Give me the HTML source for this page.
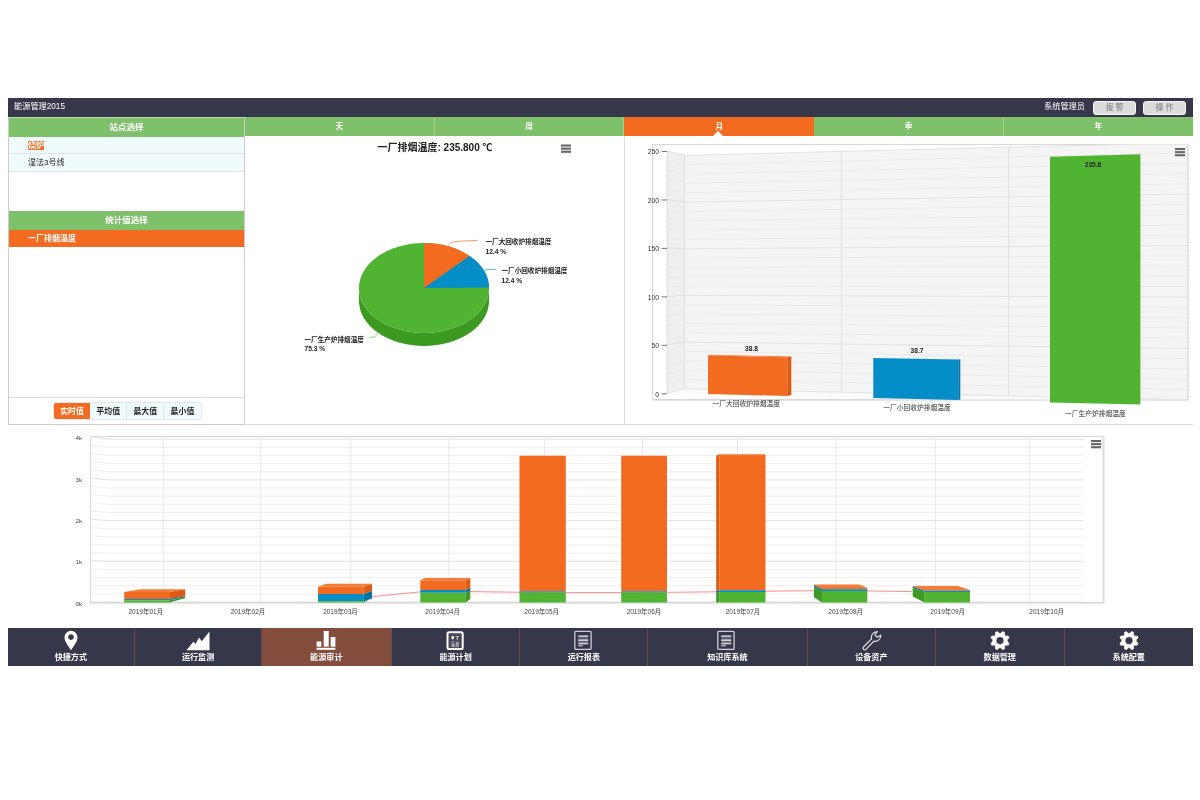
<!DOCTYPE html>
<html lang="zh-CN">
<head>
<meta charset="utf-8">
<title>能源管理2015</title>
<style>
*{box-sizing:border-box;margin:0;padding:0}
html,body{width:1200px;height:800px;background:#fff;overflow:hidden}
body{font-family:"Liberation Sans","Noto Sans CJK SC",sans-serif;color:#222;position:relative}
.abs{position:absolute}
#top{left:8px;top:98px;width:1185px;height:18.5px;background:#37374b;color:#fff;font-size:8.2px;line-height:18.5px}
#top .title{left:6px;top:0}
#top .user{right:108px;top:0}
.btn{top:3px;height:13.5px;width:43px;background:#dcdcdc;border:1px solid #f4f4f4;border-radius:3px;color:#7a7a7a;font-size:8px;line-height:11.5px;text-align:center;letter-spacing:2px;padding-left:2px}
.ghead{background:#7fc06a;color:#fff;font-size:8.5px;font-weight:bold;text-align:center;line-height:19px;height:19px}
.tab{top:116.5px;height:19px;width:189.7px;border-right:1px solid #a5d296;font-size:7.6px}
.tab.on{background:#f26b21;border-right:none}
#left{left:8px;top:116.5px;width:237px;height:308px;border:1px solid #ccc;border-top:1px solid #b9dcae;background:#fff}
.row{left:0;width:235px;height:17.5px;background:#f0fbfd;border-bottom:1px solid #e3e3e3;font-size:8px;line-height:17px;padding-left:19px;color:#222}
.row.sel{background:#f26b21;color:#fff;border-bottom:none;font-weight:bold}
.hl{background:#f26b21;color:#fff;font-weight:bold}
#bg{left:44px;top:284.2px;height:18.4px;width:148.5px;border-radius:3px;overflow:hidden;display:flex;font-size:7.9px;font-weight:bold;line-height:17.6px;text-align:center;border:1px solid #dde9ec;background:#f0fbfd}
#bg span{flex:1;border-right:1px solid #dde9ec;color:#222}
#bg span.on{background:#f26b21;color:#fff;border-right:none}
#bg span:last-child{border-right:none}
#nav{left:8px;top:628px;width:1185px;height:37.5px;background:#37374b}
.ni{top:0;height:37.5px;width:131.67px;border-right:1px solid #6b4a48;color:#fff;font-size:8.1px;font-weight:bold;text-align:center}
.ni.on{background:#834c3c}
.ni span{position:absolute;left:0;right:0;top:24px;line-height:12px}
.ni svg{position:absolute;left:50%;top:0;margin-left:-12px}
svg text{font-family:"Liberation Sans","Noto Sans CJK SC",sans-serif}
</style>
</head>
<body>
<div id="top" class="abs">
  <div class="abs title">能源管理2015</div>
  <div class="abs user">系统管理员</div>
  <div class="abs btn" style="left:1085px">报警</div>
  <div class="abs btn" style="left:1135px">操作</div>
</div>

<div class="abs ghead tab" style="left:245px">天</div>
<div class="abs ghead tab" style="left:434.7px">周</div>
<div class="abs ghead tab on" style="left:624.4px">月</div>
<div class="abs ghead tab" style="left:814.1px">季</div>
<div class="abs ghead tab" style="left:1003.8px;border-right:none;width:189.2px">年</div>
<div class="abs" style="left:712.6px;top:131px;width:0;height:0;border-left:5.8px solid transparent;border-right:5.8px solid transparent;border-bottom:5px solid #fff"></div>

<div id="left" class="abs">
  <div class="abs ghead" style="left:0;top:0;width:235px">站点选择</div>
  <div class="abs row" style="top:19px"><span class="hl">烧炉</span></div>
  <div class="abs row" style="top:36.5px">湿法3号线</div>
  <div class="abs ghead" style="left:0;top:93px;width:235px">统计值选择</div>
  <div class="abs row sel" style="top:112.1px">一厂排烟温度</div>
  <div class="abs" style="left:0;top:279.6px;width:235px;height:1px;background:#ddd"></div>
  <div id="bg" class="abs"><span class="on">实时值</span><span>平均值</span><span>最大值</span><span>最小值</span></div>
</div>

<!-- pie + bar panel frame -->
<div class="abs" style="left:245px;top:135.5px;width:948px;height:289px;border-bottom:1px solid #ddd"></div>
<div class="abs" style="left:624px;top:135.5px;width:1px;height:289px;background:#ddd"></div>

<svg id="pie" class="abs" style="left:245px;top:136px" width="379" height="288" viewBox="245 136 379 288">
<text x="435.00" y="150.50" font-size="10" text-anchor="middle" fill="#222" font-weight="bold">一厂排烟温度: 235.800 ℃</text>
<rect x="561.0" y="144.5" width="10" height="2.1" fill="#666"/><rect x="561.0" y="147.6" width="10" height="2.1" fill="#666"/><rect x="561.0" y="150.7" width="10" height="2.1" fill="#666"/>
<path d="M359.0,288.0 A65 45 0 0 0 489.0,288.0 L489.0,301.0 A65 45 0 0 1 359.0,301.0 Z" fill="#3c9a22"/>
<ellipse cx="424" cy="288" rx="65" ry="45" fill="#50b432"/>
<path d="M424,288 L424.00,243.00 A65 45 0 0 1 469.64,255.96 Z" fill="#f26b21"/>
<path d="M424,288 L469.64,255.96 A65 45 0 0 1 489.00,287.45 Z" fill="#058dc7"/>
<path d="M448.7,245.3 C450,241 456,241.5 478,240.3" fill="none" stroke="#f26b21" stroke-width="0.7"/>
<path d="M484.7,270.3 C488,269.3 491,269.4 495.5,269.4" fill="none" stroke="#058dc7" stroke-width="0.7"/>
<path d="M377.5,333.3 C376,337 373,337.6 369,337.8" fill="none" stroke="#50b432" stroke-width="0.7"/>
<text x="485.50" y="244.30" font-size="6.6" text-anchor="start" fill="#222" font-weight="bold">一厂大回收炉排烟温度</text>
<text x="485.50" y="254.00" font-size="6.6" text-anchor="start" fill="#222" font-weight="bold">12.4 %</text>
<text x="501.50" y="273.30" font-size="6.6" text-anchor="start" fill="#222" font-weight="bold">一厂小回收炉排烟温度</text>
<text x="501.50" y="283.00" font-size="6.6" text-anchor="start" fill="#222" font-weight="bold">12.4 %</text>
<text x="304.50" y="341.50" font-size="6.6" text-anchor="start" fill="#222" font-weight="bold">一厂生产炉排烟温度</text>
<text x="304.50" y="351.30" font-size="6.6" text-anchor="start" fill="#222" font-weight="bold">75.3 %</text>
</svg>
<svg id="bar" class="abs" style="left:625px;top:136px" width="568" height="288" viewBox="625 136 568 288">
<defs><clipPath id="cb"><rect x="652.5" y="144.5" width="535.0" height="255.0"/></clipPath></defs>
<rect x="653.3" y="145.3" width="535.0" height="255.0" fill="none" stroke="#e8e8e8" stroke-width="2"/>
<rect x="652.5" y="144.5" width="535.0" height="255.0" fill="#fff" stroke="#d4d4d4" stroke-width="0.9"/>
<g clip-path="url(#cb)">
<polygon points="684.50,155.40 1187.50,142.60 1187.50,399.90 684.50,388.70" fill="#f4f4f4" />
<polygon points="667.00,151.00 684.50,155.40 684.50,388.70 667.00,393.30" fill="#efefef" />
<polygon points="667.00,393.30 684.50,388.70 1187.50,399.90 1187.50,407.90" fill="#fafafa" />
<line x1="684.50" y1="155.40" x2="1187.50" y2="142.60" stroke="#dcdcdc" stroke-width="0.8"/>
<line x1="667.00" y1="151.00" x2="684.50" y2="155.40" stroke="#dcdcdc" stroke-width="0.8"/>
<line x1="684.50" y1="164.73" x2="1187.50" y2="152.89" stroke="#e4e4e4" stroke-width="0.6"/>
<line x1="667.00" y1="160.69" x2="684.50" y2="164.73" stroke="#e4e4e4" stroke-width="0.6"/>
<line x1="684.50" y1="174.06" x2="1187.50" y2="163.18" stroke="#e4e4e4" stroke-width="0.6"/>
<line x1="667.00" y1="170.38" x2="684.50" y2="174.06" stroke="#e4e4e4" stroke-width="0.6"/>
<line x1="684.50" y1="183.40" x2="1187.50" y2="173.48" stroke="#e4e4e4" stroke-width="0.6"/>
<line x1="667.00" y1="180.08" x2="684.50" y2="183.40" stroke="#e4e4e4" stroke-width="0.6"/>
<line x1="684.50" y1="192.73" x2="1187.50" y2="183.77" stroke="#e4e4e4" stroke-width="0.6"/>
<line x1="667.00" y1="189.77" x2="684.50" y2="192.73" stroke="#e4e4e4" stroke-width="0.6"/>
<line x1="684.50" y1="202.06" x2="1187.50" y2="194.06" stroke="#dcdcdc" stroke-width="0.8"/>
<line x1="667.00" y1="199.46" x2="684.50" y2="202.06" stroke="#dcdcdc" stroke-width="0.8"/>
<line x1="684.50" y1="211.39" x2="1187.50" y2="204.35" stroke="#e4e4e4" stroke-width="0.6"/>
<line x1="667.00" y1="209.15" x2="684.50" y2="211.39" stroke="#e4e4e4" stroke-width="0.6"/>
<line x1="684.50" y1="220.72" x2="1187.50" y2="214.64" stroke="#e4e4e4" stroke-width="0.6"/>
<line x1="667.00" y1="218.84" x2="684.50" y2="220.72" stroke="#e4e4e4" stroke-width="0.6"/>
<line x1="684.50" y1="230.06" x2="1187.50" y2="224.94" stroke="#e4e4e4" stroke-width="0.6"/>
<line x1="667.00" y1="228.54" x2="684.50" y2="230.06" stroke="#e4e4e4" stroke-width="0.6"/>
<line x1="684.50" y1="239.39" x2="1187.50" y2="235.23" stroke="#e4e4e4" stroke-width="0.6"/>
<line x1="667.00" y1="238.23" x2="684.50" y2="239.39" stroke="#e4e4e4" stroke-width="0.6"/>
<line x1="684.50" y1="248.72" x2="1187.50" y2="245.52" stroke="#dcdcdc" stroke-width="0.8"/>
<line x1="667.00" y1="247.92" x2="684.50" y2="248.72" stroke="#dcdcdc" stroke-width="0.8"/>
<line x1="684.50" y1="258.05" x2="1187.50" y2="255.81" stroke="#e4e4e4" stroke-width="0.6"/>
<line x1="667.00" y1="257.61" x2="684.50" y2="258.05" stroke="#e4e4e4" stroke-width="0.6"/>
<line x1="684.50" y1="267.38" x2="1187.50" y2="266.10" stroke="#e4e4e4" stroke-width="0.6"/>
<line x1="667.00" y1="267.30" x2="684.50" y2="267.38" stroke="#e4e4e4" stroke-width="0.6"/>
<line x1="684.50" y1="276.72" x2="1187.50" y2="276.40" stroke="#e4e4e4" stroke-width="0.6"/>
<line x1="667.00" y1="277.00" x2="684.50" y2="276.72" stroke="#e4e4e4" stroke-width="0.6"/>
<line x1="684.50" y1="286.05" x2="1187.50" y2="286.69" stroke="#e4e4e4" stroke-width="0.6"/>
<line x1="667.00" y1="286.69" x2="684.50" y2="286.05" stroke="#e4e4e4" stroke-width="0.6"/>
<line x1="684.50" y1="295.38" x2="1187.50" y2="296.98" stroke="#dcdcdc" stroke-width="0.8"/>
<line x1="667.00" y1="296.38" x2="684.50" y2="295.38" stroke="#dcdcdc" stroke-width="0.8"/>
<line x1="684.50" y1="304.71" x2="1187.50" y2="307.27" stroke="#e4e4e4" stroke-width="0.6"/>
<line x1="667.00" y1="306.07" x2="684.50" y2="304.71" stroke="#e4e4e4" stroke-width="0.6"/>
<line x1="684.50" y1="314.04" x2="1187.50" y2="317.56" stroke="#e4e4e4" stroke-width="0.6"/>
<line x1="667.00" y1="315.76" x2="684.50" y2="314.04" stroke="#e4e4e4" stroke-width="0.6"/>
<line x1="684.50" y1="323.38" x2="1187.50" y2="327.86" stroke="#e4e4e4" stroke-width="0.6"/>
<line x1="667.00" y1="325.46" x2="684.50" y2="323.38" stroke="#e4e4e4" stroke-width="0.6"/>
<line x1="684.50" y1="332.71" x2="1187.50" y2="338.15" stroke="#e4e4e4" stroke-width="0.6"/>
<line x1="667.00" y1="335.15" x2="684.50" y2="332.71" stroke="#e4e4e4" stroke-width="0.6"/>
<line x1="684.50" y1="342.04" x2="1187.50" y2="348.44" stroke="#dcdcdc" stroke-width="0.8"/>
<line x1="667.00" y1="344.84" x2="684.50" y2="342.04" stroke="#dcdcdc" stroke-width="0.8"/>
<line x1="684.50" y1="351.37" x2="1187.50" y2="358.73" stroke="#e4e4e4" stroke-width="0.6"/>
<line x1="667.00" y1="354.53" x2="684.50" y2="351.37" stroke="#e4e4e4" stroke-width="0.6"/>
<line x1="684.50" y1="360.70" x2="1187.50" y2="369.02" stroke="#e4e4e4" stroke-width="0.6"/>
<line x1="667.00" y1="364.22" x2="684.50" y2="360.70" stroke="#e4e4e4" stroke-width="0.6"/>
<line x1="684.50" y1="370.04" x2="1187.50" y2="379.32" stroke="#e4e4e4" stroke-width="0.6"/>
<line x1="667.00" y1="373.92" x2="684.50" y2="370.04" stroke="#e4e4e4" stroke-width="0.6"/>
<line x1="684.50" y1="379.37" x2="1187.50" y2="389.61" stroke="#e4e4e4" stroke-width="0.6"/>
<line x1="667.00" y1="383.61" x2="684.50" y2="379.37" stroke="#e4e4e4" stroke-width="0.6"/>
<line x1="684.50" y1="388.70" x2="1187.50" y2="399.90" stroke="#dcdcdc" stroke-width="0.8"/>
<line x1="667.00" y1="393.30" x2="684.50" y2="388.70" stroke="#dcdcdc" stroke-width="0.8"/>
<line x1="841.50" y1="151.40" x2="841.50" y2="392.20" stroke="#dcdcdc" stroke-width="0.8"/>
<line x1="1008.50" y1="147.16" x2="1008.50" y2="395.91" stroke="#dcdcdc" stroke-width="0.8"/>
<line x1="684.50" y1="155.40" x2="684.50" y2="388.70" stroke="#d8d8d8" stroke-width="0.8"/>
<line x1="667.00" y1="151.00" x2="667.00" y2="393.30" stroke="#d8d8d8" stroke-width="0.8"/>
</g>
<line x1="661.50" y1="151.50" x2="667.00" y2="151.50" stroke="#555" stroke-width="0.8"/>
<text x="659.00" y="154.20" font-size="6.8" text-anchor="end" fill="#333" font-weight="normal">250</text>
<line x1="661.50" y1="199.96" x2="667.00" y2="199.96" stroke="#555" stroke-width="0.8"/>
<text x="659.00" y="202.66" font-size="6.8" text-anchor="end" fill="#333" font-weight="normal">200</text>
<line x1="661.50" y1="248.42" x2="667.00" y2="248.42" stroke="#555" stroke-width="0.8"/>
<text x="659.00" y="251.12" font-size="6.8" text-anchor="end" fill="#333" font-weight="normal">150</text>
<line x1="661.50" y1="296.88" x2="667.00" y2="296.88" stroke="#555" stroke-width="0.8"/>
<text x="659.00" y="299.58" font-size="6.8" text-anchor="end" fill="#333" font-weight="normal">100</text>
<line x1="661.50" y1="345.34" x2="667.00" y2="345.34" stroke="#555" stroke-width="0.8"/>
<text x="659.00" y="348.04" font-size="6.8" text-anchor="end" fill="#333" font-weight="normal">50</text>
<line x1="661.50" y1="393.80" x2="667.00" y2="393.80" stroke="#555" stroke-width="0.8"/>
<text x="659.00" y="396.50" font-size="6.8" text-anchor="end" fill="#333" font-weight="normal">0</text>
<polygon points="708.00,355.30 787.30,357.30 787.30,396.00 708.00,394.00" fill="#f26b21" />
<polygon points="787.30,357.30 791.30,356.50 791.30,395.00 787.30,396.00" fill="#dd5a12" />
<polygon points="708.00,355.30 712.00,354.80 791.30,356.50 787.30,357.30" fill="#f47c36" />
<polygon points="873.30,358.00 958.30,359.60 958.30,400.00 873.30,398.00" fill="#058dc7" />
<polygon points="958.30,359.60 960.30,359.30 960.30,399.50 958.30,400.00" fill="#0474a5" />
<polygon points="1050.00,156.70 1140.40,154.30 1140.40,404.50 1050.00,402.50" fill="#50b432" />
<text x="751.50" y="350.50" font-size="6.6" text-anchor="middle" fill="#222" font-weight="bold">38.8</text>
<text x="917.00" y="352.80" font-size="6.6" text-anchor="middle" fill="#222" font-weight="bold">38.7</text>
<text x="1093.00" y="167.30" font-size="6.6" text-anchor="middle" fill="#222" font-weight="bold">235.8</text>
<text x="746.30" y="406.40" font-size="6.75" text-anchor="middle" fill="#333" font-weight="normal">一厂大回收炉排烟温度</text>
<text x="917.00" y="410.20" font-size="6.75" text-anchor="middle" fill="#333" font-weight="normal">一厂小回收炉排烟温度</text>
<text x="1095.50" y="416.30" font-size="6.75" text-anchor="middle" fill="#333" font-weight="normal">一厂生产炉排烟温度</text>
<rect x="1175.0" y="148.0" width="10" height="2.1" fill="#666"/><rect x="1175.0" y="151.1" width="10" height="2.1" fill="#666"/><rect x="1175.0" y="154.2" width="10" height="2.1" fill="#666"/>
</svg>
<svg id="trend" class="abs" style="left:8px;top:426px" width="1185" height="200" viewBox="8 426 1185 200">
<rect x="91.3" y="437.3" width="1012.5" height="166.0" fill="none" stroke="#e8e8e8" stroke-width="2"/>
<rect x="90.5" y="436.5" width="1012.5" height="166.0" fill="#fff" stroke="#d4d4d4" stroke-width="0.9"/>
<polyline points="90.5,436.70 108.0,439.20 1083.5,439.20" fill="none" stroke="#dadada" stroke-width="0.8"/>
<polyline points="90.5,444.96 108.0,447.34 1083.5,447.34" fill="none" stroke="#e7e7e7" stroke-width="0.7"/>
<polyline points="90.5,453.23 108.0,455.48 1083.5,455.48" fill="none" stroke="#e7e7e7" stroke-width="0.7"/>
<polyline points="90.5,461.50 108.0,463.62 1083.5,463.62" fill="none" stroke="#e7e7e7" stroke-width="0.7"/>
<polyline points="90.5,469.76 108.0,471.76 1083.5,471.76" fill="none" stroke="#e7e7e7" stroke-width="0.7"/>
<polyline points="90.5,478.02 108.0,479.90 1083.5,479.90" fill="none" stroke="#dadada" stroke-width="0.8"/>
<polyline points="90.5,486.29 108.0,488.04 1083.5,488.04" fill="none" stroke="#e7e7e7" stroke-width="0.7"/>
<polyline points="90.5,494.56 108.0,496.18 1083.5,496.18" fill="none" stroke="#e7e7e7" stroke-width="0.7"/>
<polyline points="90.5,502.82 108.0,504.32 1083.5,504.32" fill="none" stroke="#e7e7e7" stroke-width="0.7"/>
<polyline points="90.5,511.09 108.0,512.46 1083.5,512.46" fill="none" stroke="#e7e7e7" stroke-width="0.7"/>
<polyline points="90.5,519.35 108.0,520.60 1083.5,520.60" fill="none" stroke="#dadada" stroke-width="0.8"/>
<polyline points="90.5,527.62 108.0,528.74 1083.5,528.74" fill="none" stroke="#e7e7e7" stroke-width="0.7"/>
<polyline points="90.5,535.88 108.0,536.88 1083.5,536.88" fill="none" stroke="#e7e7e7" stroke-width="0.7"/>
<polyline points="90.5,544.14 108.0,545.02 1083.5,545.02" fill="none" stroke="#e7e7e7" stroke-width="0.7"/>
<polyline points="90.5,552.41 108.0,553.16 1083.5,553.16" fill="none" stroke="#e7e7e7" stroke-width="0.7"/>
<polyline points="90.5,560.67 108.0,561.30 1083.5,561.30" fill="none" stroke="#dadada" stroke-width="0.8"/>
<polyline points="90.5,568.94 108.0,569.44 1083.5,569.44" fill="none" stroke="#e7e7e7" stroke-width="0.7"/>
<polyline points="90.5,577.21 108.0,577.58 1083.5,577.58" fill="none" stroke="#e7e7e7" stroke-width="0.7"/>
<polyline points="90.5,585.47 108.0,585.72 1083.5,585.72" fill="none" stroke="#e7e7e7" stroke-width="0.7"/>
<polyline points="90.5,593.74 108.0,593.86 1083.5,593.86" fill="none" stroke="#e7e7e7" stroke-width="0.7"/>
<polyline points="90.5,602.00 108.0,602.00 1083.5,602.00" fill="none" stroke="#dadada" stroke-width="0.8"/>
<line x1="163.30" y1="439.20" x2="163.30" y2="602.00" stroke="#e2e2e2" stroke-width="0.8"/>
<line x1="260.80" y1="439.20" x2="260.80" y2="602.00" stroke="#e2e2e2" stroke-width="0.8"/>
<line x1="350.80" y1="439.20" x2="350.80" y2="602.00" stroke="#e2e2e2" stroke-width="0.8"/>
<line x1="448.80" y1="439.20" x2="448.80" y2="602.00" stroke="#e2e2e2" stroke-width="0.8"/>
<line x1="544.50" y1="439.20" x2="544.50" y2="602.00" stroke="#e2e2e2" stroke-width="0.8"/>
<line x1="642.50" y1="439.20" x2="642.50" y2="602.00" stroke="#e2e2e2" stroke-width="0.8"/>
<line x1="737.50" y1="439.20" x2="737.50" y2="602.00" stroke="#e2e2e2" stroke-width="0.8"/>
<line x1="836.00" y1="439.20" x2="836.00" y2="602.00" stroke="#e2e2e2" stroke-width="0.8"/>
<line x1="935.30" y1="439.20" x2="935.30" y2="602.00" stroke="#e2e2e2" stroke-width="0.8"/>
<line x1="1029.30" y1="439.20" x2="1029.30" y2="602.00" stroke="#e2e2e2" stroke-width="0.8"/>
<text x="82.00" y="440.30" font-size="6.2" text-anchor="end" fill="#444" font-weight="normal">4k</text>
<text x="82.00" y="481.80" font-size="6.2" text-anchor="end" fill="#444" font-weight="normal">3k</text>
<text x="82.00" y="523.10" font-size="6.2" text-anchor="end" fill="#444" font-weight="normal">2k</text>
<text x="82.00" y="564.30" font-size="6.2" text-anchor="end" fill="#444" font-weight="normal">1k</text>
<text x="82.00" y="605.50" font-size="6.2" text-anchor="end" fill="#444" font-weight="normal">0k</text>
<text x="145.80" y="614.30" font-size="6.5" text-anchor="middle" fill="#444" font-weight="normal">2019年01月</text>
<text x="248.00" y="614.30" font-size="6.5" text-anchor="middle" fill="#444" font-weight="normal">2019年02月</text>
<text x="340.50" y="614.30" font-size="6.5" text-anchor="middle" fill="#444" font-weight="normal">2019年03月</text>
<text x="442.70" y="614.30" font-size="6.5" text-anchor="middle" fill="#444" font-weight="normal">2019年04月</text>
<text x="541.70" y="614.30" font-size="6.5" text-anchor="middle" fill="#444" font-weight="normal">2019年05月</text>
<text x="644.00" y="614.30" font-size="6.5" text-anchor="middle" fill="#444" font-weight="normal">2019年06月</text>
<text x="743.00" y="614.30" font-size="6.5" text-anchor="middle" fill="#444" font-weight="normal">2019年07月</text>
<text x="845.70" y="614.30" font-size="6.5" text-anchor="middle" fill="#444" font-weight="normal">2019年08月</text>
<text x="947.70" y="614.30" font-size="6.5" text-anchor="middle" fill="#444" font-weight="normal">2019年09月</text>
<text x="1046.70" y="614.30" font-size="6.5" text-anchor="middle" fill="#444" font-weight="normal">2019年10月</text>
<polyline points="372,596.7 420.5,591.8 470,591.6 545,592.6 640,592.6 716,591.8 790,590.9 845,590.6 912,591.6" fill="none" stroke="#ff5a5a" stroke-width="0.7"/>
<polygon points="124.20,592.00 169.20,592.00 169.20,599.00 124.20,599.00" fill="#f26b21" /><polygon points="124.20,599.00 169.20,599.00 169.20,600.20 124.20,600.20" fill="#058dc7" /><polygon points="124.20,600.20 169.20,600.20 169.20,602.50 124.20,602.50" fill="#50b432" /><polygon points="124.20,592.00 140.20,589.20 185.20,589.20 169.20,592.00" fill="#f47c36" /><polygon points="169.20,592.00 185.20,589.20 185.20,596.20 169.20,599.00" fill="#dd5a12" /><polygon points="169.20,599.00 185.20,596.20 185.20,597.40 169.20,600.20" fill="#0474a5" /><polygon points="169.20,600.20 185.20,597.40 185.20,598.30 169.20,602.50" fill="#3c9a22" />
<polygon points="318.00,586.70 363.70,586.70 363.70,594.00 318.00,594.00" fill="#f26b21" /><polygon points="318.00,594.00 363.70,594.00 363.70,601.30 318.00,601.30" fill="#058dc7" /><polygon points="318.00,601.30 363.70,601.30 363.70,602.50 318.00,602.50" fill="#50b432" /><polygon points="318.00,586.70 326.30,583.80 372.00,583.80 363.70,586.70" fill="#f47c36" /><polygon points="363.70,586.70 372.00,583.80 372.00,591.10 363.70,594.00" fill="#dd5a12" /><polygon points="363.70,594.00 372.00,591.10 372.00,598.40 363.70,601.30" fill="#0474a5" /><polygon points="363.70,601.30 372.00,598.40 372.00,598.15 363.70,602.50" fill="#3c9a22" />
<polygon points="420.30,580.30 465.80,580.30 465.80,590.00 420.30,590.00" fill="#f26b21" /><polygon points="420.30,590.00 465.80,590.00 465.80,592.70 420.30,592.70" fill="#058dc7" /><polygon points="420.30,592.70 465.80,592.70 465.80,602.50 420.30,602.50" fill="#50b432" /><polygon points="420.30,580.30 424.80,578.00 470.30,578.00 465.80,580.30" fill="#f47c36" /><polygon points="465.80,580.30 470.30,578.00 470.30,587.70 465.80,590.00" fill="#dd5a12" /><polygon points="465.80,590.00 470.30,587.70 470.30,590.40 465.80,592.70" fill="#0474a5" /><polygon points="465.80,592.70 470.30,590.40 470.30,599.05 465.80,602.50" fill="#3c9a22" />
<polygon points="519.50,455.80 565.80,455.80 565.80,591.20 519.50,591.20" fill="#f26b21" /><polygon points="519.50,591.20 565.80,591.20 565.80,592.50 519.50,592.50" fill="#058dc7" /><polygon points="519.50,592.50 565.80,592.50 565.80,602.50 519.50,602.50" fill="#50b432" />
<polygon points="621.20,455.80 667.00,455.80 667.00,591.20 621.20,591.20" fill="#f26b21" /><polygon points="621.20,591.20 667.00,591.20 667.00,592.50 621.20,592.50" fill="#058dc7" /><polygon points="621.20,592.50 667.00,592.50 667.00,602.50 621.20,602.50" fill="#50b432" />
<polygon points="719.50,454.50 765.50,454.50 765.50,590.20 719.50,590.20" fill="#f26b21" /><polygon points="719.50,590.20 765.50,590.20 765.50,592.00 719.50,592.00" fill="#058dc7" /><polygon points="719.50,592.00 765.50,592.00 765.50,602.50 719.50,602.50" fill="#50b432" /><polygon points="719.50,454.50 716.20,455.50 762.20,455.50 765.50,454.50" fill="#f47c36" /><polygon points="719.50,454.50 716.20,455.50 716.20,591.20 719.50,590.20" fill="#dd5a12" /><polygon points="719.50,590.20 716.20,591.20 716.20,593.00 719.50,592.00" fill="#0474a5" /><polygon points="719.50,592.00 716.20,593.00 716.20,602.50 719.50,602.50" fill="#3c9a22" />
<polygon points="822.00,588.00 867.30,588.00 867.30,589.30 822.00,589.30" fill="#f26b21" /><polygon points="822.00,589.30 867.30,589.30 867.30,591.00 822.00,591.00" fill="#058dc7" /><polygon points="822.00,591.00 867.30,591.00 867.30,602.50 822.00,602.50" fill="#50b432" /><polygon points="822.00,588.00 814.00,584.50 859.30,584.50 867.30,588.00" fill="#f47c36" /><polygon points="822.00,588.00 814.00,584.50 814.00,585.80 822.00,589.30" fill="#dd5a12" /><polygon points="822.00,589.30 814.00,585.80 814.00,587.50 822.00,591.00" fill="#0474a5" /><polygon points="822.00,591.00 814.00,587.50 814.00,597.25 822.00,602.50" fill="#3c9a22" />
<polygon points="924.70,590.00 970.00,590.00 970.00,590.80 924.70,590.80" fill="#f26b21" /><polygon points="924.70,590.80 970.00,590.80 970.00,592.00 924.70,592.00" fill="#058dc7" /><polygon points="924.70,592.00 970.00,592.00 970.00,602.50 924.70,602.50" fill="#50b432" /><polygon points="924.70,590.00 912.70,586.00 958.00,586.00 970.00,590.00" fill="#f47c36" /><polygon points="924.70,590.00 912.70,586.00 912.70,586.80 924.70,590.80" fill="#dd5a12" /><polygon points="924.70,590.80 912.70,586.80 912.70,588.00 924.70,592.00" fill="#0474a5" /><polygon points="924.70,592.00 912.70,588.00 912.70,596.50 924.70,602.50" fill="#3c9a22" />
<rect x="1091.0" y="440.0" width="10" height="2.1" fill="#666"/><rect x="1091.0" y="443.1" width="10" height="2.1" fill="#666"/><rect x="1091.0" y="446.2" width="10" height="2.1" fill="#666"/>
</svg>

<div id="nav" class="abs">
  <div class="abs ni" style="left:0.0px;width:126.7px"><svg width="24" height="26" viewBox="0 0 24 26" style="margin-left:-11.9px"><path d="M12,22.2 C9,17.5 5.5,13.6 5.5,9.3 A6.5,6.5 0 0 1 18.5,9.3 C18.5,13.6 15,17.5 12,22.2Z M12,6.2 a2.9,2.9 0 1 0 0.01,0Z" fill="#fff" fill-rule="evenodd"/></svg><span>快捷方式</span></div>
  <div class="abs ni" style="left:126.7px;width:127.8px"><svg width="24" height="26" viewBox="0 0 24 26"><polygon points="0.5,22.2 7.5,13.5 9.5,16 13,9.5 15.8,13.2 23.5,3.5 23.5,22.2" fill="#fff"/></svg><span>运行监测</span></div>
  <div class="abs ni on" style="left:253.9px;width:129.8px"><svg width="24" height="26" viewBox="0 0 24 26"><rect x="2.6" y="13.5" width="4.7" height="5.2" fill="#fff"/><rect x="9.7" y="3" width="5" height="15.7" fill="#fff"/><rect x="16.7" y="9" width="4.7" height="9.7" fill="#fff"/><rect x="2.6" y="19.8" width="18.8" height="2" fill="#fff"/></svg><span>能源审计</span></div>
  <div class="abs ni" style="left:383.7px;width:128.8px"><svg width="24" height="26" viewBox="0 0 24 26"><rect x="3.5" y="4.3" width="15.2" height="16.8" rx="1.6" fill="#45455a" stroke="#fff" stroke-width="2"/><rect x="7.6" y="8" width="2.2" height="3.2" fill="#fff"/><rect x="11.6" y="8" width="3.4" height="1.1" fill="#bbb"/><rect x="12.6" y="9.1" width="1.4" height="3" fill="#aaa"/><rect x="7.4" y="13.2" width="3" height="1.2" fill="#aaa"/><rect x="7.4" y="15.4" width="3.2" height="2.6" fill="#aaa"/><rect x="11.6" y="13.6" width="3.4" height="4.4" rx="1.5" fill="#9a9aa6"/><rect x="7.4" y="18" width="7.6" height="1.1" fill="#9a9aa6"/></svg><span>能源计划</span></div>
  <div class="abs ni" style="left:512.5px;width:127.7px"><svg width="24" height="26" viewBox="0 0 24 26"><rect x="2.8" y="3.4" width="16.3" height="18" rx="0.9" fill="none" stroke="#cdcdd3" stroke-width="1.3"/><rect x="6.2" y="7.4" width="10" height="1.7" fill="#cfcfd4"/><rect x="6.2" y="9.7" width="10" height="1" fill="#77778a"/><rect x="6.2" y="11.3" width="10" height="1.7" fill="#cfcfd4"/><rect x="6.2" y="13.3" width="10" height="0.9" fill="#77778a"/><rect x="6.2" y="14.6" width="10" height="1.7" fill="#cfcfd4"/><rect x="6.2" y="16.8" width="4.6" height="1.5" fill="#b4b4bd"/></svg><span>运行报表</span></div>
  <div class="abs ni" style="left:640.2px;width:159.5px"><svg width="24" height="26" viewBox="0 0 24 26"><rect x="2.8" y="3.4" width="16.3" height="18" rx="0.9" fill="none" stroke="#cdcdd3" stroke-width="1.3"/><rect x="6.2" y="7.4" width="10" height="1.7" fill="#cfcfd4"/><rect x="6.2" y="9.7" width="10" height="1" fill="#77778a"/><rect x="6.2" y="11.3" width="10" height="1.7" fill="#cfcfd4"/><rect x="6.2" y="13.3" width="10" height="0.9" fill="#77778a"/><rect x="6.2" y="14.6" width="10" height="1.7" fill="#cfcfd4"/><rect x="6.2" y="16.8" width="4.6" height="1.5" fill="#b4b4bd"/></svg><span>知识库系统</span></div>
  <div class="abs ni" style="left:799.7px;width:128.3px"><svg width="24" height="26" viewBox="0 0 24 26"><path transform="translate(0.9,0)" d="M3.5,19 L11.6,10.9 C10.5,7.5 13.2,3.7 17.4,3.5 L15,6.9 L17.2,9.2 L20.9,7.2 C21,11.5 17.3,14.1 14,13.2 L6,21.4 C4.4,22.8 2.2,20.7 3.5,19Z" fill="none" stroke="#e4e4e4" stroke-width="1.15" stroke-linejoin="round"/></svg><span>设备资产</span></div>
  <div class="abs ni" style="left:928.0px;width:128.5px"><svg width="24" height="26" viewBox="0 0 24 26"><path d="M21.14,15.18 L20.29,17.24 L17.66,17.21 L16.61,18.26 L16.64,20.89 L14.58,21.74 L12.74,19.86 L11.26,19.86 L9.42,21.74 L7.36,20.89 L7.39,18.26 L6.34,17.21 L3.71,17.24 L2.86,15.18 L4.74,13.34 L4.74,11.86 L2.86,10.02 L3.71,7.96 L6.34,7.99 L7.39,6.94 L7.36,4.31 L9.42,3.46 L11.26,5.34 L12.74,5.34 L14.58,3.46 L16.64,4.31 L16.61,6.94 L17.66,7.99 L20.29,7.96 L21.14,10.02 L19.26,11.86 L19.26,13.34Z M8.10,12.60 a3.90,3.90 0 1 0 7.80,0 a3.90,3.90 0 1 0 -7.80,0Z" fill="#fff" fill-rule="evenodd" stroke="#fff" stroke-width="0.5" stroke-linejoin="round"/></svg><span>数据管理</span></div>
  <div class="abs ni" style="left:1056.5px;width:128.5px;border-right:none"><svg width="24" height="26" viewBox="0 0 24 26"><path d="M21.14,15.18 L20.29,17.24 L17.66,17.21 L16.61,18.26 L16.64,20.89 L14.58,21.74 L12.74,19.86 L11.26,19.86 L9.42,21.74 L7.36,20.89 L7.39,18.26 L6.34,17.21 L3.71,17.24 L2.86,15.18 L4.74,13.34 L4.74,11.86 L2.86,10.02 L3.71,7.96 L6.34,7.99 L7.39,6.94 L7.36,4.31 L9.42,3.46 L11.26,5.34 L12.74,5.34 L14.58,3.46 L16.64,4.31 L16.61,6.94 L17.66,7.99 L20.29,7.96 L21.14,10.02 L19.26,11.86 L19.26,13.34Z M8.10,12.60 a3.90,3.90 0 1 0 7.80,0 a3.90,3.90 0 1 0 -7.80,0Z" fill="#fff" fill-rule="evenodd" stroke="#fff" stroke-width="0.5" stroke-linejoin="round"/></svg><span>系统配置</span></div>
</div>
</body>
</html>
